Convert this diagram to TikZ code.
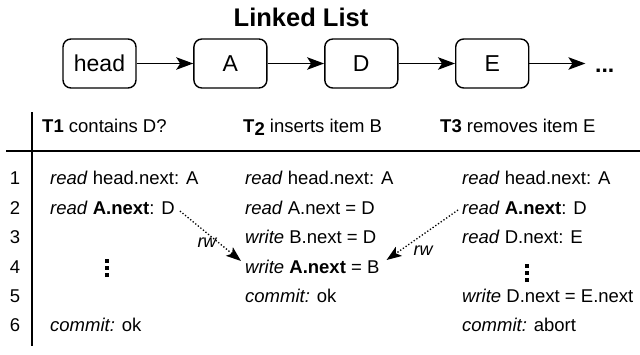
\documentclass[tikz,border=0pt]{standalone}
\usepackage{fontspec}
\setmainfont{Liberation Sans}
\usetikzlibrary{arrows.meta,positioning}

\newcommand{\dotsquare}{\rule{3.8pt}{3.8pt}}
\newcommand{\vdotsq}{\vbox{\offinterlineskip\hbox{\dotsquare}\vskip3.4pt\hbox{\dotsquare}\vskip3.4pt\hbox{\dotsquare}}}

\tikzset{
  listbox/.style={draw, line width=1.4pt, rounded corners=8pt, minimum width=73pt, minimum height=49pt, inner sep=0pt, font=\fontsize{23}{26}\selectfont},
  listarrow/.style={line width=1.3pt, -{Stealth[length=17pt,width=12.5pt,inset=4pt]}},
  rwarrow/.style={line width=1.3pt, dotted, -{Stealth[length=15pt,width=11pt,inset=3.5pt]}},
  cell/.style={anchor=base west, inner sep=0pt, font=\fontsize{18.5}{22}\selectfont},
  rownum/.style={anchor=base, inner sep=0pt, font=\fontsize{18.5}{22}\selectfont},
  rwlabel/.style={inner sep=0pt, font=\itshape\fontsize{18}{22}\selectfont}
}

\begin{document}
\begin{tikzpicture}[x=1pt,y=-1pt]
    \useasboundingbox (0,0) rectangle (640,354);

    % the list
    \node[anchor=base, inner sep=0pt, font=\bfseries\fontsize{25.5}{30}\selectfont] (title) at (301,26) {Linked List};
    \node[listbox] (head) at (99.5,63.5) {head};
    \node[listbox, anchor=west] (A) at ([xshift=56.5]head.east) {A};
    \node[listbox, anchor=west] (D) at ([xshift=56.5]A.east) {D};
    \node[listbox, anchor=west] (E) at ([xshift=56.5]D.east) {E};
    \coordinate (more) at ([xshift=56]E.east);
    \node[anchor=base west, inner sep=0pt, font=\bfseries\fontsize{23}{26}\selectfont] (dots) at (595,72) {...};
    \draw[listarrow] (head) -- (A);
    \draw[listarrow] (A) -- (D);
    \draw[listarrow] (D) -- (E);
    \draw[listarrow] (E) -- (more);

    % the table
    \draw[line width=1.3pt] (32,112) -- (32,346);
    \draw[line width=1.3pt] (6,151) -- (640,151);

    \node[cell] (h1) at (42,132) {\textbf{T1} contains D?};
    \node[cell] (h2) at (243,132) {\textbf{T\raisebox{-3pt}{2}} inserts item B};
    \node[cell] (h3) at (440,132) {\textbf{T3} removes item E};

    \node[rownum] (n1) at (15,184.5) {1};
    \node[rownum] (n2) at (15,214) {2};
    \node[rownum] (n3) at (15,243.5) {3};
    \node[rownum] (n4) at (15,273) {4};
    \node[rownum] (n5) at (15,302) {5};
    \node[rownum] (n6) at (15,331.5) {6};

    % T1
    \node[cell] (c1r1) at (50,184.5) {\textit{read} head.next: A};
    \node[cell] (c1r2) at (50,214) {\textit{read} \textbf{A.next}: D};
    \node[inner sep=0pt] (c1dots) at (107,268) {\vdotsq};
    \node[cell] (c1r6) at (50,331.5) {\textit{commit:} ok};

    % T2
    \node[cell] (c2r1) at (245,184.5) {\textit{read} head.next: A};
    \node[cell] (c2r2) at (245,214) {\textit{read} A.next = D};
    \node[cell] (c2r3) at (245,243.5) {\textit{write} B.next = D};
    \node[cell] (c2r4) at (245,273) {\textit{write} \textbf{A.next} = B};
    \node[cell] (c2r5) at (245,302) {\textit{commit:} ok};

    % T3
    \node[cell] (c3r1) at (462,184.5) {\textit{read} head.next: A};
    \node[cell] (c3r2) at (462,214) {\textit{read} \textbf{A.next}: D};
    \node[cell] (c3r3) at (462,243.5) {\textit{read} D.next: E};
    \node[inner sep=0pt] (c3dots) at (527,273) {\vdotsq};
    \node[cell] (c3r5) at (462,302) {\textit{write} D.next = E.next};
    \node[cell] (c3r6) at (462,331.5) {\textit{commit:} abort};

    % conflicts
    \draw[rwarrow] ([xshift=5pt,yshift=3pt]c1r2.base east) -- ([xshift=-4pt,yshift=12pt]c2r4.base west);
    \node[rwlabel] (rw1) at (207,243) {rw};
    \draw[rwarrow] ([xshift=-4pt,yshift=4pt]c3r2.base west) -- ([xshift=7pt,yshift=13pt]c2r4.base east);
    \node[rwlabel] (rw2) at (423,251) {rw};
\end{tikzpicture}
\end{document}
